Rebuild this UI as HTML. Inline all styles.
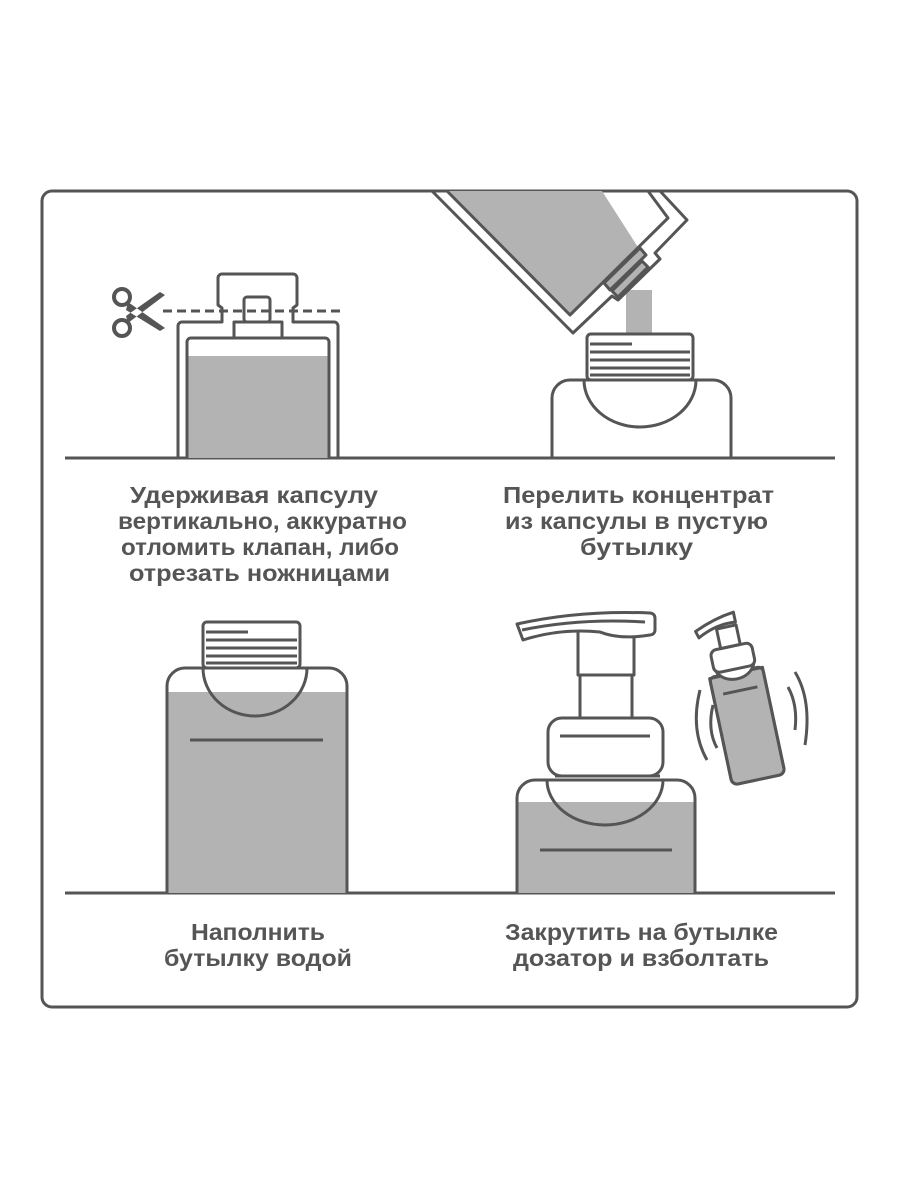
<!DOCTYPE html>
<html><head><meta charset="utf-8"><style>body{margin:0;background:#fff}svg{display:block}</style></head><body>
<svg width="900" height="1200" viewBox="0 0 900 1200" xmlns="http://www.w3.org/2000/svg">
<g fill="none" stroke="#555" stroke-width="3" stroke-linejoin="round">
<rect x="42" y="191" width="815" height="816" rx="10"/>
<line x1="65" y1="458" x2="835" y2="458"/>
<line x1="65" y1="893" x2="835" y2="893"/>
</g>
<!-- Panel 1 -->
<g stroke="#555" stroke-width="3" fill="none" stroke-linejoin="round">
<rect x="187" y="356" width="142" height="102" fill="#b3b3b3" stroke="none"/>
<path d="M187 458 V342 a4 4 0 0 1 4 -4 H325 a4 4 0 0 1 4 4 V458"/>
<path d="M178 458 V326 a4 4 0 0 1 4 -4 H222 V308 l-4 -3 V278 a4 4 0 0 1 4 -4 H293 a4 4 0 0 1 4 4 V305 l-4 3 V322 H334 a4 4 0 0 1 4 4 V458"/>
<rect x="234" y="322" width="48" height="16"/>
<rect x="244" y="297" width="26" height="25" rx="3"/>
<line x1="163" y1="311" x2="340" y2="311" stroke-dasharray="9 5"/>
<circle cx="122" cy="297" r="8" stroke-width="4"/>
<circle cx="122" cy="328" r="8" stroke-width="4"/>
</g>
<path d="M128 302 L165 328 L160 331 L126 310 Z M128 323 L165 295 L160 292 L126 316 Z" fill="#555"/>
<!-- Panel 2 -->
<rect x="626" y="290" width="26" height="45" fill="#b3b3b3"/>
<path d="M447 191 L570 314 L604 282 L608 285 L641 252 L602 191 Z" fill="#b3b3b3"/>
<g stroke="#555" stroke-width="3" fill="none" stroke-linejoin="round">
<path d="M432 191 L573 333 L612 296 L618 300 L660 259 L655 253 L687 220 L660 191"/>
<path d="M447 191 L570 315 L668 218 L648 191"/>
<path d="M604 283 L640 248 L646 255 L610 290 Z" fill="#b3b3b3"/>
<path d="M612 291 L642 261 L648 267 L618 297 Z" fill="#b3b3b3"/>
<rect x="587" y="334" width="106" height="46" rx="4" fill="#fff"/>
<line x1="590" y1="344" x2="632" y2="344"/><line x1="590" y1="352" x2="690" y2="352"/><line x1="590" y1="360" x2="690" y2="360"/><line x1="590" y1="368" x2="690" y2="368"/><line x1="590" y1="375" x2="690" y2="375"/>
<path d="M552 458 V398 a18 18 0 0 1 18 -18 H713 a18 18 0 0 1 18 18 V458"/>
<path d="M584 380 a56 47 0 0 0 112 0"/>
</g>
<!-- Panel 3 -->
<path d="M167 692 H347 V893 H167 Z" fill="#b3b3b3"/>
<g stroke="#555" stroke-width="3" fill="none" stroke-linejoin="round">
<path d="M203 668 a52 48 0 0 0 104 0"/>
<path d="M167 893 V686 a18 18 0 0 1 18 -18 H329 a18 18 0 0 1 18 18 V893"/>
<rect x="203" y="622" width="97" height="46" rx="4" fill="#fff"/>
<line x1="206" y1="632" x2="248" y2="632"/><line x1="206" y1="640" x2="297" y2="640"/><line x1="206" y1="648" x2="297" y2="648"/><line x1="206" y1="656" x2="297" y2="656"/><line x1="206" y1="663" x2="297" y2="663"/>
<line x1="190" y1="740" x2="323" y2="740"/>
</g>
<!-- Panel 4 -->
<path d="M517 802 H695 V893 H517 Z" fill="#b3b3b3"/>
<g stroke="#555" stroke-width="3" fill="none" stroke-linejoin="round">
<path d="M547 780 a58 45 0 0 0 116 0"/>
<path d="M517 893 V798 a18 18 0 0 1 18 -18 H677 a18 18 0 0 1 18 18 V893"/>
<rect x="580" y="675" width="52" height="45"/>
<rect x="578" y="631" width="56" height="44"/>
<path d="M517 624 Q580 610 650 613 a5 5 0 0 1 5 5 V630 a5 5 0 0 1 -5 5 Q620 640 600 632 Q560 628 523 640 Z" fill="#fff"/>
<path d="M522 630 Q580 618 645 622"/>
<rect x="548" y="718" width="115" height="58" rx="14" fill="#fff"/>
<line x1="560" y1="736" x2="650" y2="736"/>
<line x1="555" y1="776" x2="660" y2="776"/>
<line x1="540" y1="850" x2="672" y2="850"/>
<g transform="rotate(-12 745 715)">
<path d="M718 672 H772 V775 a6 6 0 0 1 -6 6 H724 a6 6 0 0 1 -6 -6 Z" fill="#b3b3b3"/>
<path d="M718 676 a5 5 0 0 1 5 -5 H767 a5 5 0 0 1 5 5 V775 a6 6 0 0 1 -6 6 H724 a6 6 0 0 1 -6 -6 Z"/>
<path d="M725 662 a20 16 0 0 0 40 0" fill="#fff"/>
<rect x="724" y="645" width="42" height="23" rx="6" fill="#fff"/>
<rect x="735" y="625" width="20" height="20"/>
<path d="M714 623 Q735 614 755 612 V622 Q735 620 716 630 Z" fill="#fff"/>
<line x1="728" y1="690" x2="763" y2="690"/>
</g>
<path d="M700 690 Q690 730 707 760"/>
<path d="M713 705 Q707 730 717 748"/>
<path d="M795 672 Q812 700 805 745"/>
<path d="M788 687 Q798 705 795 730"/>
</g>
<!-- Text -->
<g font-family="'Liberation Sans', sans-serif" font-weight="bold" font-size="23" fill="#555" lengthAdjust="spacingAndGlyphs">
<text x="130" y="503" textLength="248" lengthAdjust="spacingAndGlyphs">Удерживая капсулу</text>
<text x="118" y="529" textLength="289" lengthAdjust="spacingAndGlyphs">вертикально, аккуратно</text>
<text x="121" y="555" textLength="278" lengthAdjust="spacingAndGlyphs">отломить клапан, либо</text>
<text x="129" y="581" textLength="261" lengthAdjust="spacingAndGlyphs">отрезать ножницами</text>
<text x="503" y="503" textLength="271" lengthAdjust="spacingAndGlyphs">Перелить концентрат</text>
<text x="505" y="529" textLength="263" lengthAdjust="spacingAndGlyphs">из капсулы в пустую</text>
<text x="580" y="555" textLength="113" lengthAdjust="spacingAndGlyphs">бутылку</text>
<text x="191" y="940" textLength="134" lengthAdjust="spacingAndGlyphs">Наполнить</text>
<text x="164" y="966" textLength="188" lengthAdjust="spacingAndGlyphs">бутылку водой</text>
<text x="505" y="940" textLength="273" lengthAdjust="spacingAndGlyphs">Закрутить на бутылке</text>
<text x="513" y="966" textLength="256" lengthAdjust="spacingAndGlyphs">дозатор и взболтать</text>
</g>
</svg>
</body></html>
